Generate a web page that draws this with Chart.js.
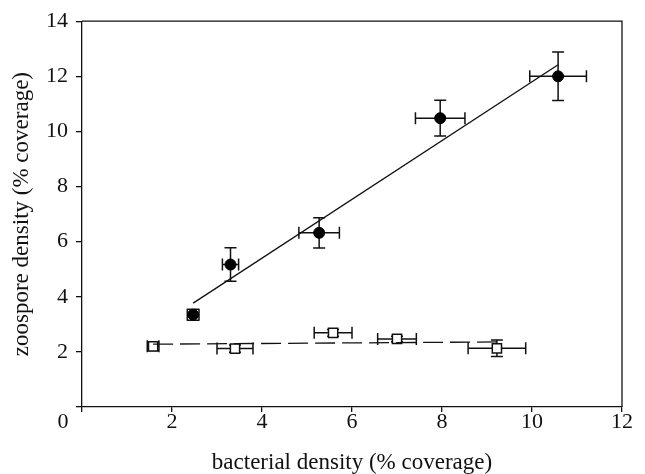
<!DOCTYPE html>
<html>
<head>
<meta charset="utf-8">
<script src="https://cdn.jsdelivr.net/npm/chart.js@4"></script>
<style>
html,body{margin:0;padding:0;background:#fff;}
#wrap{width:645px;height:474px;}
</style>
</head>
<body>
<div id="wrap"><canvas id="c" width="645" height="474"></canvas></div>
<script>
// ---- data ----
const xTicks = [0, 2, 4, 6, 8, 10, 12];
const yTicks = [0, 2, 4, 6, 8, 10, 12, 14];

const filledX    = [2.47, 3.30, 5.27, 7.96, 10.58];
const filledY    = [3.35, 5.17, 6.32, 10.48, 12.00];
const filledXErr = [0.13, 0.18, 0.45, 0.55, 0.63];
const filledYErr = [0.20, 0.61, 0.55, 0.65, 0.88];

const openX    = [1.58, 3.40, 5.58, 7.00, 9.22];
const openY    = [2.20, 2.12, 2.69, 2.47, 2.13];
const openXErr = [0.13, 0.40, 0.42, 0.43, 0.64];
const openYErr = [0.15, 0.13, 0.12, 0.10, 0.30];

const solidFitX = [2.47, 10.58];
const solidFitY = [3.77, 12.42];
const dashFitX  = [1.58, 9.22];
const dashFitY  = [2.28, 2.36];

const xTitle = 'bacterial density (% coverage)';
const yTitle = 'zoospore density (% coverage)';

const FONT = 'Liberation Serif, Times New Roman, serif';

function pts(xs, ys, ex, ey) {
  return xs.map((x, i) => ({x: x, y: ys[i], ex: ex ? ex[i] : 0, ey: ey ? ey[i] : 0}));
}

const errorBars = {
  id: 'errorBars',
  beforeDatasetsDraw(chart) {
    const ctx = chart.ctx, xs = chart.scales.x, ys = chart.scales.y;
    ctx.save();
    ctx.strokeStyle = '#111';
    ctx.lineWidth = 1.5;
    const cap = 6;
    chart.data.datasets.forEach(ds => {
      if (!ds.errorBars) return;
      ds.data.forEach(p => {
        const cx = xs.getPixelForValue(p.x), cy = ys.getPixelForValue(p.y);
        const x0 = xs.getPixelForValue(p.x - p.ex), x1 = xs.getPixelForValue(p.x + p.ex);
        const y0 = ys.getPixelForValue(p.y - p.ey), y1 = ys.getPixelForValue(p.y + p.ey);
        ctx.beginPath();
        ctx.moveTo(x0, cy); ctx.lineTo(x1, cy);
        ctx.moveTo(x0, cy - cap); ctx.lineTo(x0, cy + cap);
        ctx.moveTo(x1, cy - cap); ctx.lineTo(x1, cy + cap);
        ctx.moveTo(cx, y0); ctx.lineTo(cx, y1);
        ctx.moveTo(cx - cap, y0); ctx.lineTo(cx + cap, y0);
        ctx.moveTo(cx - cap, y1); ctx.lineTo(cx + cap, y1);
        ctx.stroke();
      });
    });
    ctx.restore();
  }
};

const frame = {
  id: 'frame',
  afterDraw(chart) {
    const ctx = chart.ctx, a = chart.chartArea;
    ctx.save();
    ctx.strokeStyle = '#111';
    ctx.lineWidth = 1.3;
    ctx.beginPath();
    ctx.moveTo(a.left, a.top); ctx.lineTo(a.right, a.top); ctx.lineTo(a.right, a.bottom);
    ctx.stroke();
    // origin label "0", drawn offset to the lower-left of the origin as in the reference
    ctx.fillStyle = '#111';
    ctx.font = '22px ' + FONT;
    ctx.textAlign = 'center';
    ctx.textBaseline = 'middle';
    ctx.fillText(String(xTicks[0]), chart.scales.x.getPixelForValue(xTicks[0]) - 19, a.bottom + 15);
    ctx.restore();
  }
};

new Chart(document.getElementById('c'), {
  type: 'scatter',
  data: {
    datasets: [
      {
        type: 'line', data: pts(solidFitX, solidFitY), borderColor: '#111', borderWidth: 1.3,
        pointRadius: 0, fill: false, tension: 0
      },
      {
        type: 'line', data: pts(dashFitX, dashFitY), borderColor: '#111', borderWidth: 1.3,
        borderDash: [20, 7], pointRadius: 0, fill: false, tension: 0
      },
      {
        data: pts(filledX, filledY, filledXErr, filledYErr), errorBars: true,
        pointStyle: 'circle', pointRadius: 5.5, backgroundColor: '#000', borderColor: '#000', borderWidth: 1
      },
      {
        data: pts(openX, openY, openXErr, openYErr), errorBars: true,
        pointStyle: 'rect', pointRadius: 6.5, backgroundColor: '#fff', borderColor: '#111', borderWidth: 1.5
      }
    ]
  },
  options: {
    responsive: false,
    animation: false,
    devicePixelRatio: 1,
    layout: {padding: {top: 17, right: 23, left: 0, bottom: 0}},
    plugins: {legend: {display: false}, tooltip: {enabled: false}},
    scales: {
      x: {
        type: 'linear', min: xTicks[0], max: xTicks[xTicks.length - 1],
        afterBuildTicks: s => { s.ticks = xTicks.map(v => ({value: v})); },
        afterFit: s => { s.height = 67; },
        grid: {drawOnChartArea: false, drawTicks: true, tickLength: 5, color: '#111', lineWidth: 1.3},
        border: {display: true, color: '#111', width: 1.3},
        ticks: {
          color: '#111', font: {family: FONT, size: 22}, padding: -3, maxRotation: 0,
          callback: v => (v === xTicks[0] ? '' : String(v))
        },
        title: {display: true, text: xTitle, color: '#111', font: {family: FONT, size: 23}, padding: {top: 2, bottom: -3}}
      },
      y: {
        type: 'linear', min: yTicks[0], max: yTicks[yTicks.length - 1],
        afterBuildTicks: s => { s.ticks = yTicks.map(v => ({value: v})); },
        afterFit: s => { s.width = 82; },
        grid: {drawOnChartArea: false, drawTicks: true, tickLength: 6, color: '#111', lineWidth: 1.3},
        border: {display: true, color: '#111', width: 1.3},
        ticks: {
          color: '#111', font: {family: FONT, size: 22}, padding: 8,
          callback: v => (v === yTicks[0] ? '' : String(v))
        },
        title: {display: true, text: yTitle, color: '#111', font: {family: FONT, size: 23}, padding: {top: 8, bottom: 4}}
      }
    }
  },
  plugins: [errorBars, frame]
});
</script>
</body>
</html>
